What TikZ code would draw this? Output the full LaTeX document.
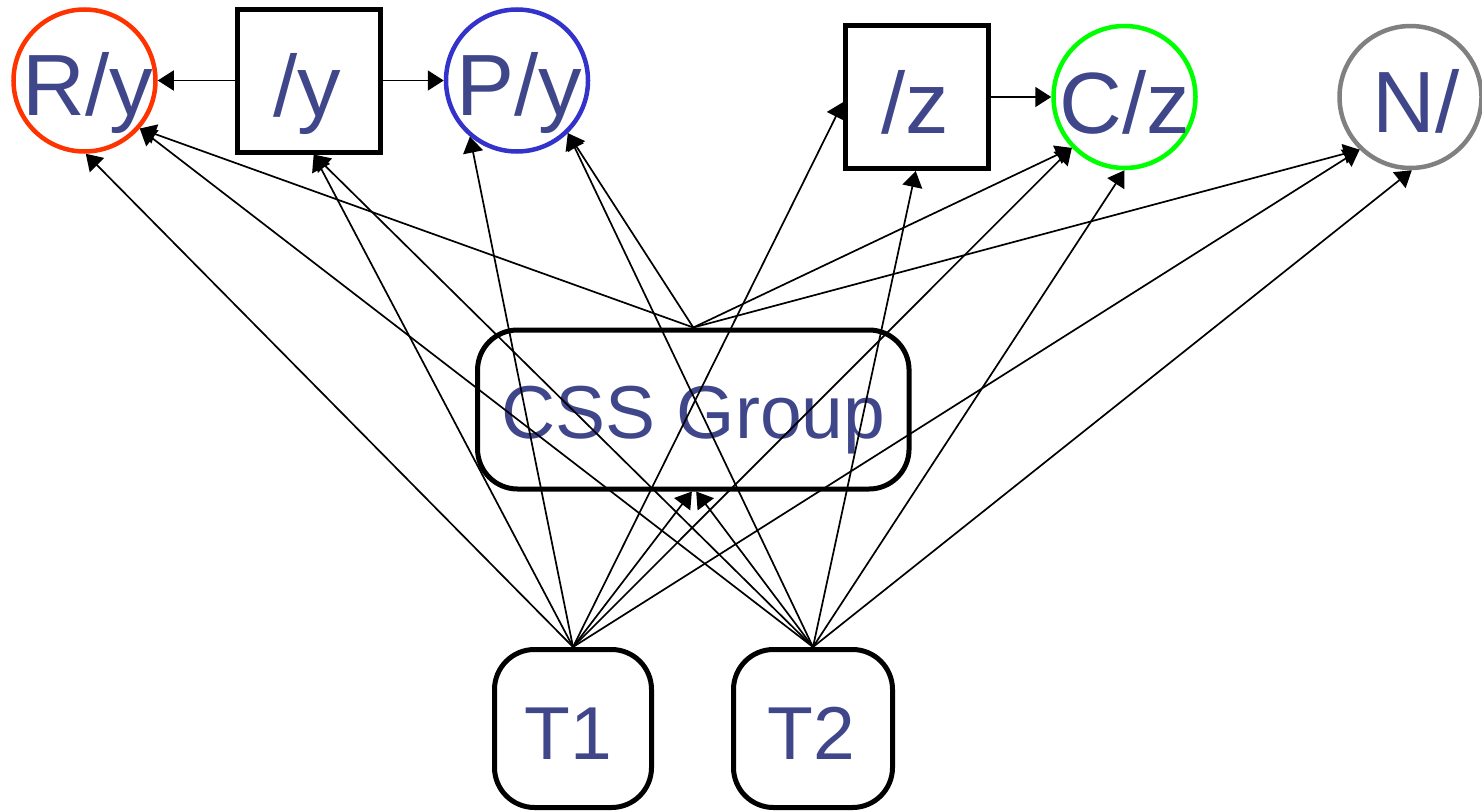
\documentclass[tikz,border=0pt]{standalone}
\usepackage{fontspec}
\setmainfont{Liberation Sans}
\usetikzlibrary{arrows.meta}
\definecolor{txtc}{RGB}{64,70,138}
\definecolor{redc}{RGB}{255,51,0}
\definecolor{bluec}{RGB}{51,51,204}
\definecolor{greenc}{RGB}{0,255,0}
\definecolor{grayc}{RGB}{128,128,128}
\begin{document}
\begin{tikzpicture}[x=1pt,y=-1pt,
  circ/.style={circle,draw,line width=4.5pt,minimum size=142pt,inner sep=0pt},
  sqr/.style={rectangle,draw=black,line width=5pt,minimum width=143pt,minimum height=143pt,inner sep=0pt},
  rbox/.style={rectangle,rounded corners=40pt,draw=black,line width=5pt,inner sep=0pt},
  lbl/.style={anchor=base,inner sep=0pt,text=txtc,font=\fontsize{87}{100}\selectfont},
  lbls/.style={anchor=base,inner sep=0pt,text=txtc,font=\fontsize{75}{90}\selectfont},
  edge/.style={line width=1.7pt,-{Triangle[length=16pt,width=20pt]}}]
\useasboundingbox (0,0) rectangle (1482,811);
% top row
\node[circ,draw=redc]   (Ry) at (84.5,80.5) {};
\node[sqr]              (sy) at (308.5,80.5) {};
\node[circ,draw=bluec]  (Py) at (517,80.5) {};
\node[sqr]              (sz) at (917,97) {};
\node[circ,draw=greenc] (Cz) at (1124.5,97) {};
\node[circ,draw=grayc]  (N)  at (1410.5,97) {};
% group and tasks
\node[rbox,minimum width=431.5pt,minimum height=159pt] (css) at (693.3,409.5) {};
\node[rbox,minimum width=157pt,minimum height=158pt] (T1) at (573,728.5) {};
\node[rbox,minimum width=159pt,minimum height=158pt] (T2) at (813,728.5) {};
% labels
\node[lbl] (Ryt) at (87.5,115) {R/y};
\node[lbl] (syt) at (307.5,116) {/y};
\node[lbl] (Pyt) at (519,115) {P/y};
\node[lbl] (szt) at (915,133) {/z};
\node[lbl] (Czt) at (1125,133) {C/z};
\node[lbl] (Nt)  at (1416,132) {N/};
\node[lbls] (csst) at (693.5,438) {CSS Group};
\node[lbls] (T1t) at (568.5,759) {T1};
\node[lbls] (T2t) at (811.5,759) {T2};
% horizontal connectors
\draw[edge] (sy.west) -- (Ry.0);
\draw[edge] (sy.east) -- (Py.180);
\draw[edge] (sz.east) -- (Cz.180);
% from T1
\draw[edge] (T1.north) -- (Ry.-89);
\draw[edge] (T1.north) -- (sy.-86.5);
\draw[edge] (T1.north) -- (Py.-130);
\draw[edge] (T1.north) -- (css.-91.5);
\draw[edge] (T1.north) -- (sz.184.6);
\draw[edge] (T1.north) -- (Cz.-136);
\draw[edge] (T1.north) -- (N.-134);
% from T2
\draw[edge] (T2.north) -- (Ry.-41);
\draw[edge] (T2.north) -- (sy.-86.5);
\draw[edge] (T2.north) -- (Py.-46);
\draw[edge] (T2.north) -- (css.-88.5);
\draw[edge] (T2.north) -- (sz.-91.5);
\draw[edge] (T2.north) -- (Cz.-90);
\draw[edge] (T2.north) -- (N.-89);
% from CSS Group
\draw[edge] (css.north) -- (Ry.-41);
\draw[edge] (css.north) -- (Py.-46);
\draw[edge] (css.north) -- (Cz.-136);
\draw[edge] (css.north) -- (N.-134);
\end{tikzpicture}
\end{document}
